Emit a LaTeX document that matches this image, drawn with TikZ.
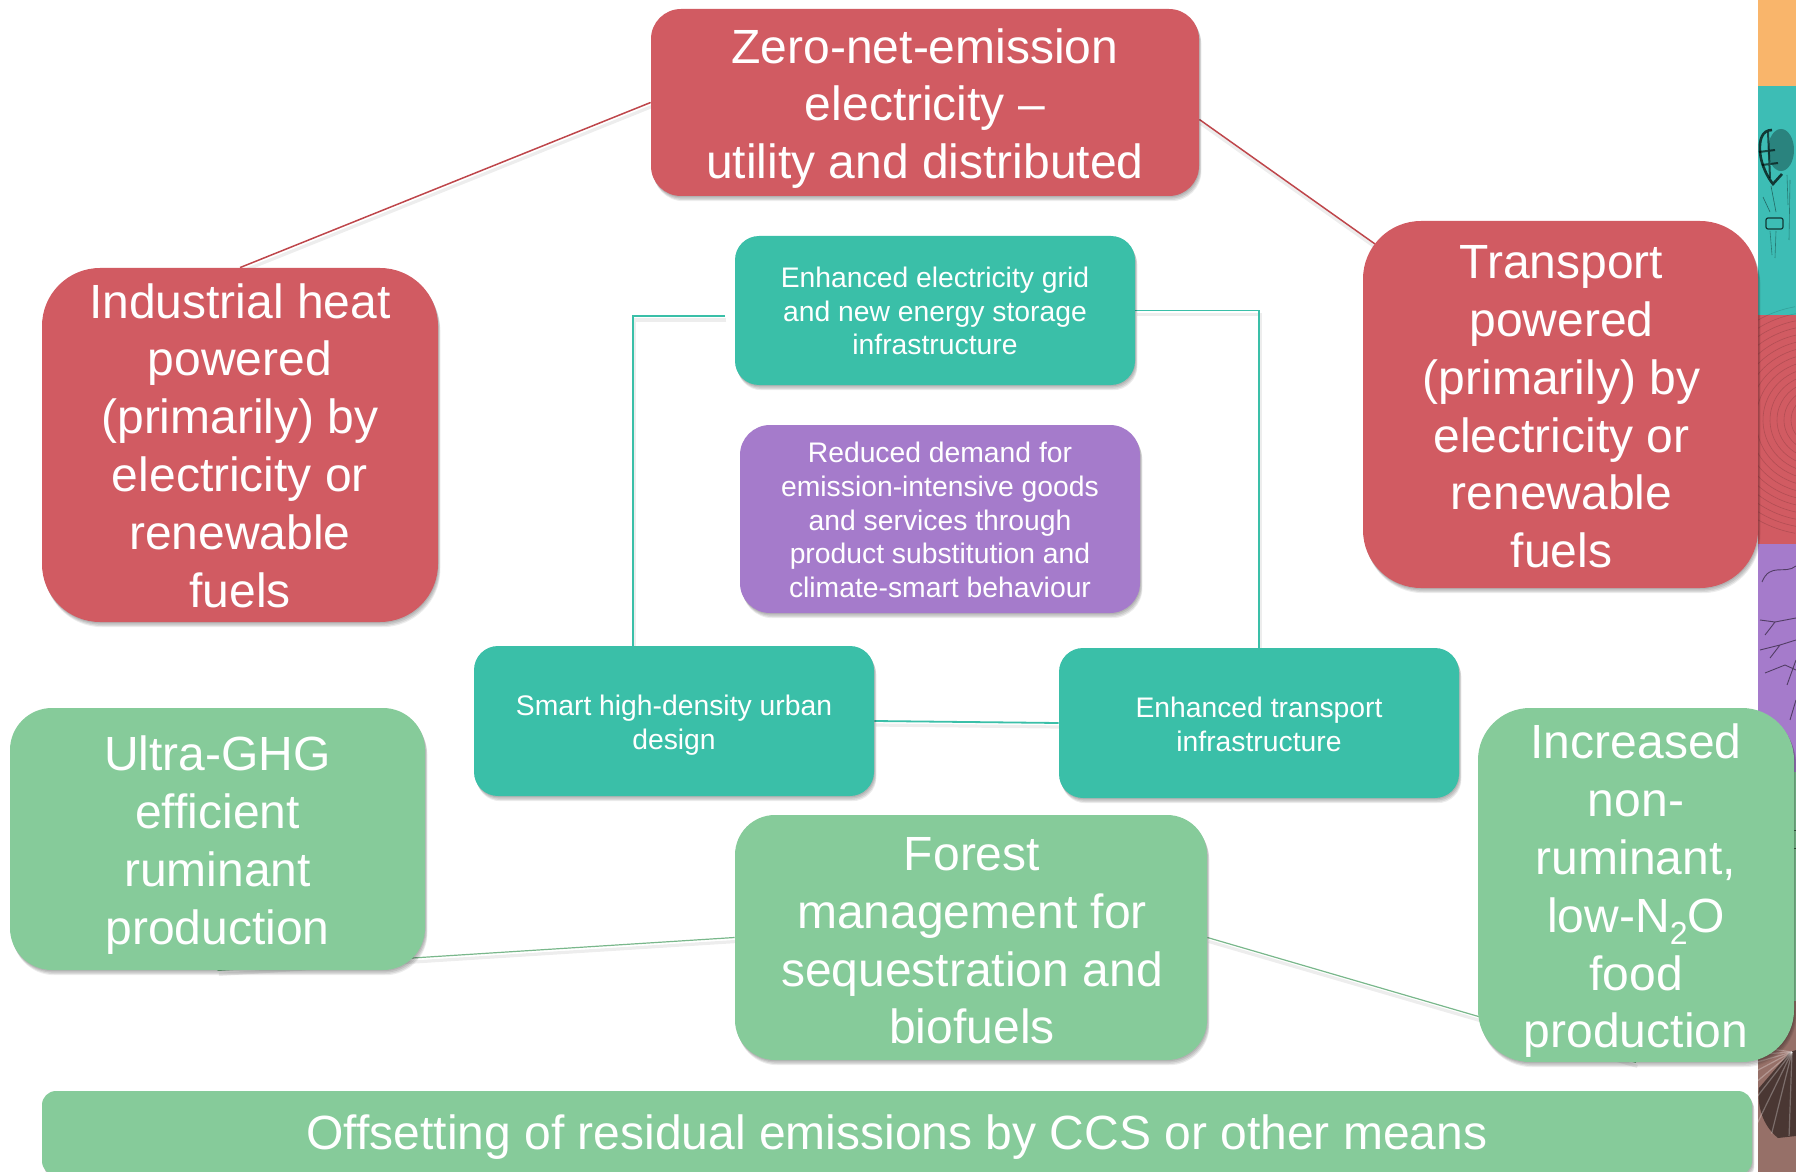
\documentclass[tikz,border=0pt]{standalone}
\usepackage{fontspec}
\setmainfont{Liberation Sans}
\usetikzlibrary{shadows,calc}
\pgfdeclarelayer{bg}
\pgfsetlayers{bg,main}
\definecolor{cred}{RGB}{209,91,98}
\definecolor{cteal}{RGB}{58,191,168}
\definecolor{cpurple}{RGB}{165,123,203}
\definecolor{cgreen}{RGB}{134,203,154}
\definecolor{corange}{RGB}{249,181,107}
\definecolor{steal}{RGB}{61,189,181}
\definecolor{sbrown}{RGB}{150,112,104}
\tikzset{
  softshadow/.style={
    general shadow={fill=black,opacity=.09,shadow xshift=.3pt,shadow yshift=-.6pt},
    general shadow={fill=black,opacity=.09,shadow xshift=.7pt,shadow yshift=-1.3pt},
    general shadow={fill=black,opacity=.09,shadow xshift=1pt,shadow yshift=-2pt},
    general shadow={fill=black,opacity=.07,shadow xshift=1.2pt,shadow yshift=-2.6pt}},
  bx/.style={softshadow,inner sep=0pt,draw=none},
  bigtext/.style={inner sep=0pt,align=center,text=white,font=\fontsize{24}{28.9}\selectfont},
  smalltext/.style={inner sep=0pt,align=center,text=white,font=\fontsize{14.15}{16.9}\selectfont},
  lineshade/.style={preaction={draw=black,draw opacity=.07,line width=1.6pt,transform canvas={xshift=.7pt,yshift=-2pt}}},
  redline/.style={lineshade,draw={rgb,255:red,190;green,70;blue,75},line width=.75pt},
  tealline/.style={lineshade,draw=cteal,line width=.9pt},
  greenline/.style={lineshade,draw=cgreen!90!black,line width=.6pt},
  sketch/.style={draw=black,draw opacity=.45,line width=.3pt},
}
% name, x0,y0,x1,y1, box style, text style, "dx,dy;text"
\newcommand{\bxnode}[8]{%
  \pgfmathsetmacro{\bw}{(#4-#2)*0.5}\pgfmathsetmacro{\bh}{(#5-#3)*0.5}%
  \node[#6,minimum width=\bw pt,minimum height=\bh pt] (#1) at ({(#2+#4)/2},{(#3+#5)/2}) {};
  \def\bxn{#1}\def\bxs{#7}\bxparse#8\relax}
\def\bxparse#1,#2;#3\relax{\node[\bxs] (\bxn t) at ($(\bxn)+(#1,#2)$) {#3};}
\begin{document}
\begin{tikzpicture}[x=0.5pt,y=-0.5pt]
\useasboundingbox (0,0) rectangle (1796,1172);
% side strip
\fill[corange] (1758,0) rectangle (1796,86);
\fill[steal] (1758,86) rectangle (1796,315);
\fill[cred] (1758,315) rectangle (1796,544);
\fill[cpurple] (1758,544) rectangle (1796,772);
\fill[cgreen] (1758,772) rectangle (1796,1001);
\fill[sbrown] (1758,1001) rectangle (1796,1172);
\begin{scope}
\clip (1758,0) rectangle (1796,1172);
% balloon
\fill[black,opacity=.3] (1781,150) ellipse [x radius=13,y radius=21];
\draw[black,opacity=.7,line width=1.3pt] (1772,130) .. controls (1762,130) and (1759,140) .. (1760,152) .. controls (1761,165) and (1768,178) .. (1773,184) -- (1782,174);
\draw[black,opacity=.6,line width=1pt] (1759,152) -- (1775,150) (1762,165) -- (1778,163) (1768,132) -- (1770,178);
\draw[sketch] (1771,186) -- (1776,212) (1763,197) -- (1770,212);
\draw[sketch,line width=.6pt,draw opacity=.7,rounded corners=1pt] (1766,218) rectangle (1783,229);
\draw[sketch,draw opacity=.35] (1770,231) -- (1772,255) (1776,231) -- (1775,258) (1787,175) -- (1788,205) (1790,180) -- (1789,240);
% contour lines
\foreach \r in {24,31,...,115} {
  \draw[sketch,draw opacity=.15] (1815,420) ++(100:\r) arc (100:260:\r);
}
% branches
\draw[black,opacity=.5,line width=.45pt] (1762,582) .. controls (1770,562) and (1785,575) .. (1796,566)
  (1760,620) -- (1775,622) -- (1796,618) (1775,622) -- (1765,635) (1760,650) -- (1780,645) -- (1796,640)
  (1780,645) -- (1770,658) (1765,673) -- (1785,665) -- (1796,670) (1796,660) -- (1787,685) (1796,700) -- (1790,720);
% fan
\fill[black,opacity=.5] (1790,1052) -- (1759,1088) .. controls (1757,1105) and (1762,1125) .. (1778,1138) -- (1796,1136) -- (1796,1050) -- cycle;
\foreach \a in {92,104,...,188} {
  \draw[draw=white,draw opacity=.28,line width=.6pt] (1792,1052) -- ++({\a}:84);
}
\draw[black,opacity=.6,line width=.5pt] (1794,830) -- (1796,830) (1794,848) -- (1796,848);
\end{scope}
% boxes
\bxnode{top}{651}{9}{1199}{196}{bx,fill=cred,rounded corners=15pt}{bigtext}{0,6;Zero-net-emission\\electricity --\\utility and distributed}
\bxnode{ind}{42}{268}{438}{622}{bx,fill=cred,rounded corners=29pt}{bigtext}{0,0.5;Industrial heat\\powered\\(primarily) by\\electricity or\\renewable\\fuels}
\bxnode{trn}{1363}{221}{1758}{588}{bx,fill=cred,rounded corners=29pt}{bigtext}{1,2.5;Transport\\powered\\(primarily) by\\electricity or\\renewable\\fuels}
\bxnode{grid}{735}{236}{1135}{385}{bx,fill=cteal,rounded corners=12pt}{smalltext}{0,0.5;Enhanced electricity grid\\and new energy storage\\infrastructure}
\bxnode{dem}{740}{425}{1140}{613}{bx,fill=cpurple,rounded corners=15pt}{smalltext}{0,1;Reduced demand for\\emission-intensive goods\\and services through\\product substitution and\\climate-smart behaviour}
\bxnode{smart}{474}{646}{874}{796}{bx,fill=cteal,rounded corners=12pt}{smalltext}{0,4.5;Smart high-density urban\\design}
\bxnode{tinf}{1059}{648}{1459}{798}{bx,fill=cteal,rounded corners=12pt}{smalltext}{0,1;Enhanced transport\\infrastructure}
\bxnode{ultra}{10}{708}{425}{970}{bx,fill=cgreen,rounded corners=21pt}{bigtext}{0,6;Ultra-GHG\\efficient\\ruminant\\production}
\bxnode{forest}{735}{815}{1207}{1060}{bx,fill=cgreen,rounded corners=20pt}{bigtext}{1,3.5;Forest\\management for\\sequestration and\\biofuels}
\bxnode{incr}{1478}{708}{1794}{1062}{bx,fill=cgreen,rounded corners=26pt}{bigtext}{0,6;Increased\\non-\\ruminant,\\low-N\raisebox{-6pt}{\fontsize{16}{16}\selectfont 2}O\\food\\production}
\bxnode{offs}{42}{1091}{1752}{1175}{bx,fill=cgreen,rounded corners=7pt}{bigtext}{0,4.5;Offsetting of residual emissions by CCS or other means}
% connectors
\begin{pgfonlayer}{bg}
\coordinate (trA) at ($(top.east)+(0,17)$);
\coordinate (trB) at (1375,244);
\coordinate (gl) at (725,316);
\coordinate (sm) at (633,646);
\draw[redline] (top.west) -- (ind.north);
\draw[redline] (trA) -- (trB);
\draw[tealline] (gl) -- (633,316) -- (sm);
\draw[tealline] (grid.east) -| (tinf.north);
\draw[tealline] (smart.east) -- (tinf.west);
\draw[greenline] (ultra.south) -- (forest.west);
\draw[greenline] (forest.east) -- (incr.south);
\end{pgfonlayer}
\end{tikzpicture}
\end{document}
